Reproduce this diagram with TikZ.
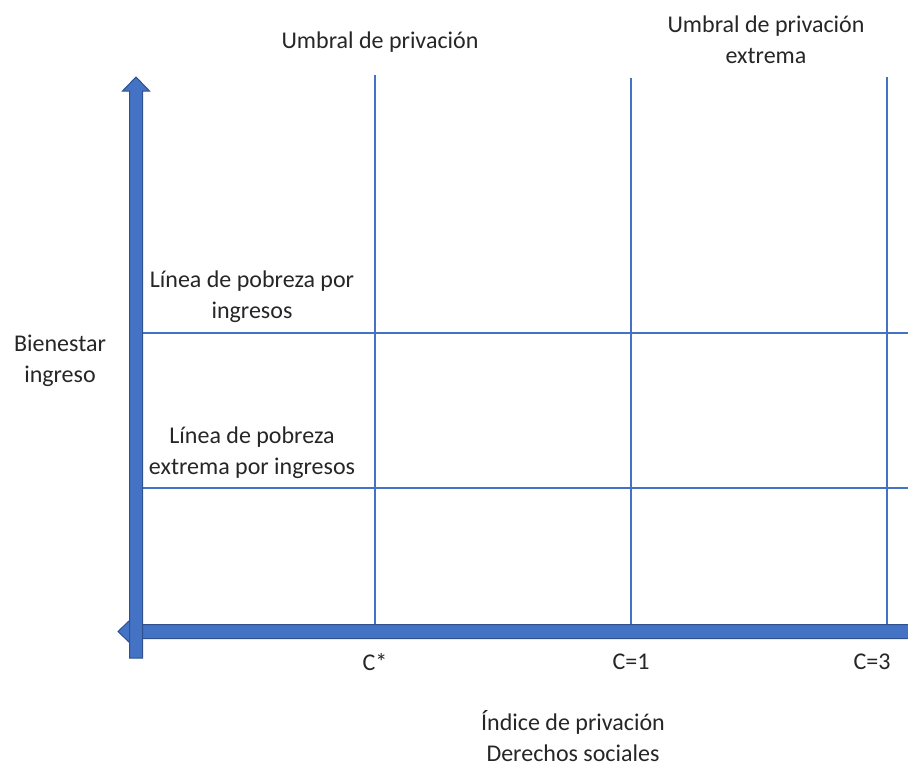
\documentclass[tikz,border=0pt]{standalone}
\usepackage{fontspec}
\setmainfont{Carlito}
\definecolor{axfill}{HTML}{4472C4}
\definecolor{axedge}{HTML}{2F528F}
\definecolor{gridc}{HTML}{4472C4}
\begin{document}
\begin{tikzpicture}[x=1pt,y=-1pt,
  lbl/.style={font=\fontsize{24}{31}\selectfont, align=center, inner sep=0pt, text=black!85},
  axis/.style={fill=axfill, draw=axedge, line width=1pt},
  vline/.style={draw=gridc, line width=1.4pt},
  hline/.style={draw=gridc, line width=2pt}]
\useasboundingbox (0,0) rectangle (908,764);
\clip (0,0) rectangle (908,764);
% grid lines
\draw[vline] (375,75) -- (375,625);
\draw[vline] (631,78) -- (631,625);
\draw[vline] (887,77) -- (887,625);
\draw[hline] (142,333) -- (910,333);
\draw[hline] (142,488) -- (910,488);
% horizontal axis
\draw[axis] (912,624.5) -- (130,624.5) -- (130,620) -- (118,631.5) -- (130,643) -- (130,638.5) -- (912,638.5) -- cycle;
% vertical axis
\draw[axis] (129.5,658) -- (129.5,91) -- (122.5,91) -- (136,77) -- (149.5,91) -- (142.5,91) -- (142.5,658) -- cycle;
% labels
\node[lbl] (umb) at (380,42) {Umbral de privación};
\node[lbl] (umbx) at (766,40) {Umbral de privación\\extrema};
\node[lbl] (lp) at (252,297) {Línea de pobreza por\\ingresos};
\node[lbl] (lpe) at (252,453) {Línea de pobreza\\extrema por ingresos};
\node[lbl] (bien) at (60,361) {Bienestar\\ingreso};
\node[lbl] (cs) at (375,662) {C*};
\node[lbl] (c1) at (631,662) {C=1};
\node[lbl] (c3) at (872,662) {C=3};
\node[lbl] (ind) at (573,736) {Índice de privación\\Derechos sociales};
\end{tikzpicture}
\end{document}
